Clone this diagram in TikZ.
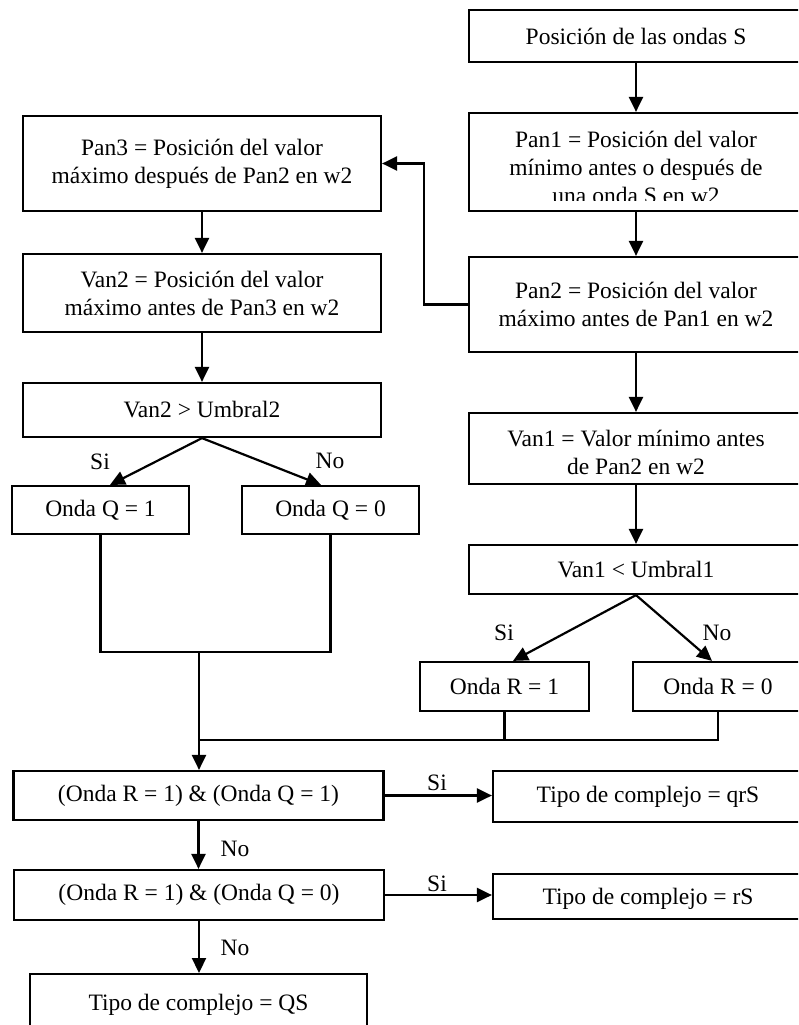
\documentclass[tikz,border=0pt]{standalone}
\usepackage{fontspec}
\setmainfont{Liberation Serif}
\usetikzlibrary{arrows.meta}
\begin{document}
\begin{tikzpicture}[x=1pt,y=-1pt,
  every node/.style={font=\fontsize{23.5}{28}\selectfont},
  box/.style={draw,line width=2.2pt,rectangle,inner sep=0pt,align=center},
  txt/.style={inner sep=0pt,align=center},
  lbl/.style={inner sep=0pt},
  link/.style={line width=2.2pt},
  arr/.style={line width=2.2pt,-{Triangle[length=15pt,width=14pt]}}]
\useasboundingbox (0,0) rectangle (798,1025);
\clip (0,0) rectangle (798,1025);

% right column
\node[box,minimum width=334pt,minimum height=52pt] (A) at (636,36) {Posición de las ondas S};
\node[box,minimum width=334pt,minimum height=98pt] (B) at (636,162) {};
\begin{scope}
  \clip (469,113) rectangle (803,200);
  \node[txt] (Bt) at (636,167) {Pan1 = Posición del valor\\mínimo antes o después de\\una onda S en w2};
\end{scope}
\node[box,minimum width=334pt,minimum height=95pt] (C) at (636,304.5) {Pan2 = Posición del valor\\máximo antes de Pan1 en w2};
\node[box,minimum width=334pt,minimum height=71pt] (D) at (636,448.5) {};
\begin{scope}
  \clip (469,413) rectangle (803,474);
  \node[txt] (Dt) at (636,452) {Van1 = Valor mínimo antes\\de Pan2 en w2};
\end{scope}
\node[box,minimum width=334pt,minimum height=49pt] (E) at (636,569.5) {Van1 < Umbral1};
\node[box,minimum width=169pt,minimum height=49pt] (F) at (504.5,686.5) {Onda R = 1};
\node[box,minimum width=170pt,minimum height=49pt] (G) at (718,686.5) {Onda R = 0};

% left column
\node[box,minimum width=358pt,minimum height=95pt] (H) at (202,163.5) {Pan3 = Posición del valor\\máximo después de Pan2 en w2};
\node[box,minimum width=358pt,minimum height=78pt] (I) at (202,293) {Van2 = Posición del valor\\máximo antes de Pan3 en w2};
\node[box,minimum width=358pt,minimum height=54pt] (J) at (202,410) {Van2 > Umbral2};
\node[box,minimum width=177pt,minimum height=48pt] (K) at (100.5,510) {Onda Q = 1};
\node[box,minimum width=177pt,minimum height=48pt] (L) at (330.5,510) {Onda Q = 0};

% final decisions
\node[box,minimum width=370pt,minimum height=49pt] (M) at (198.5,795.5) {(Onda R = 1) \& (Onda Q = 1)};
\node[box,minimum width=310pt,minimum height=51pt] (N) at (648,796.5) {Tipo de complejo = qrS};
\node[box,minimum width=370pt,minimum height=50pt] (O) at (199,895) {(Onda R = 1) \& (Onda Q = 0)};
\node[box,minimum width=310pt,minimum height=45pt] (P) at (648,896.5) {};
\begin{scope}
  \clip (493,874) rectangle (803,909);
  \node[txt] (Pt) at (648,899) {Tipo de complejo = rS};
\end{scope}
\node[box,minimum width=337pt,minimum height=90pt,anchor=north] (Q) at (198.5,973) {};
\node[txt] (Qt) at (198.5,1005) {Tipo de complejo = QS};

% connectors, right column
\draw[arr] (A) -- (B);
\draw[arr] (B) -- (C);
\draw[arr] (C.west) -- ++(-44,0) |- (H.east);
\draw[arr] (C) -- (D);
\draw[arr] (D) -- (E);
\draw[arr] (E.south) -- ([xshift=8.5pt]F.north);
\draw[arr] (E.south) -- ([xshift=-6pt]G.north);
\node[lbl] (si1) at (504,633) {Si};
\node[lbl] (no1) at (717,633) {No};

% connectors, left column
\draw[arr] (H) -- (I);
\draw[arr] (I) -- (J);
\draw[arr] (J.south) -- ([xshift=9.5pt]K.north);
\draw[arr] (J.south) -- ([xshift=-9.5pt]L.north);
\node[lbl] (si2) at (100,462) {Si};
\node[lbl] (no2) at (330,461) {No};

% joining both branches
\coordinate (qm) at (199,652);
\coordinate (jn) at (199,740);
\draw[link] (K.south) |- (qm) -| (L.south);
\draw[link] (F.south) |- (jn);
\draw[link] (G.south) |- (F.south |- jn);
\draw[arr] (qm) -- (M.north -| qm);

% final decisions
\draw[arr] (M.east) -- (N.west |- M.east);
\node[lbl] (si3) at (437,783) {Si};
\draw[arr] (M.south) -- (O.north -| M.south);
\node[lbl] (no3) at (235,849) {No};
\draw[arr] (O.east) -- (P.west |- O.east);
\node[lbl] (si4) at (437,884) {Si};
\draw[arr] (O.south) -- (Q.north -| O.south);
\node[lbl] (no4) at (235,948) {No};
\end{tikzpicture}
\end{document}
